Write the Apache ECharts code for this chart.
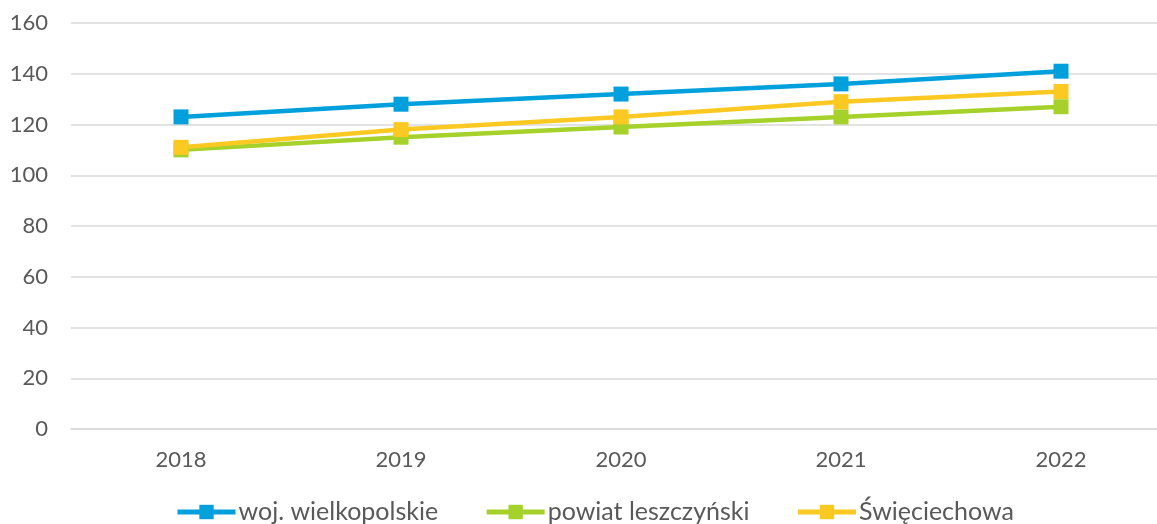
<!DOCTYPE html>
<html>
<head>
<meta charset="utf-8">
<script src="https://cdn.jsdelivr.net/npm/echarts@6/dist/echarts.min.js"></script>
<style>
  html, body { margin: 0; padding: 0; background: #ffffff; }
  #chart { width: 1157px; height: 524px; }
</style>
</head>
<body>
<div id="chart"></div>
<script>
// Years along the horizontal axis
const years = ['2018', '2019', '2020', '2021', '2022'];

// Index values per area
const wojWielkopolskie = [123, 128, 132, 136, 141];
const powiatLeszczynski = [110, 115, 119, 123, 127];
const swieciechowa = [111, 118, 123, 129, 133];

const seriesNames = ['woj. wielkopolskie', 'powiat leszczyński', 'Święciechowa'];
const seriesColors = ['#00A0DC', '#A5D12A', '#FCC923'];

const textColor = '#595959';
const fontFamily = '"Century Gothic", "Lato", "DejaVu Sans", sans-serif';

const chart = echarts.init(document.getElementById('chart'), null, { renderer: 'canvas' });

function lineSeries(name, data, color) {
  return {
    name: name,
    type: 'line',
    data: data,
    symbol: 'rect',
    symbolSize: 15,
    lineStyle: { color: color, width: 4.5 },
    itemStyle: { color: color },
    emphasis: { disabled: true },
    animation: false
  };
}

chart.setOption({
  backgroundColor: '#ffffff',
  animation: false,
  // the plot area runs past the right edge, so gridlines reach the border
  grid: {
    left: 71, right: -14, top: 23, bottom: 95,
    containLabel: false,
    outerBoundsMode: 'none'
  },
  legend: {
    top: 499,
    left: 175,
    padding: 0,
    itemWidth: 58,
    itemHeight: 18,
    itemGap: 46,
    lineStyle: { width: 5 },
    textStyle: {
      color: textColor, fontSize: 25, lineHeight: 26,
      fontFamily: fontFamily, padding: [0, 0, 0, -2]
    },
    data: seriesNames
  },
  xAxis: {
    type: 'category',
    data: years,
    boundaryGap: true,
    axisLine: { lineStyle: { color: '#d9d9d9', width: 1.5 } },
    axisTick: { show: false },
    axisLabel: { color: textColor, fontSize: 22, fontFamily: fontFamily, margin: 20 }
  },
  yAxis: {
    type: 'value',
    min: 0,
    max: 160,
    interval: 20,
    axisLine: { show: false },
    axisTick: { show: false },
    splitLine: { lineStyle: { color: '#d9d9d9', width: 1.5 } },
    axisLabel: { color: textColor, fontSize: 22, fontFamily: fontFamily, margin: 23 }
  },
  series: [
    lineSeries(seriesNames[0], wojWielkopolskie, seriesColors[0]),
    lineSeries(seriesNames[1], powiatLeszczynski, seriesColors[1]),
    lineSeries(seriesNames[2], swieciechowa, seriesColors[2])
  ]
});
</script>
</body>
</html>
